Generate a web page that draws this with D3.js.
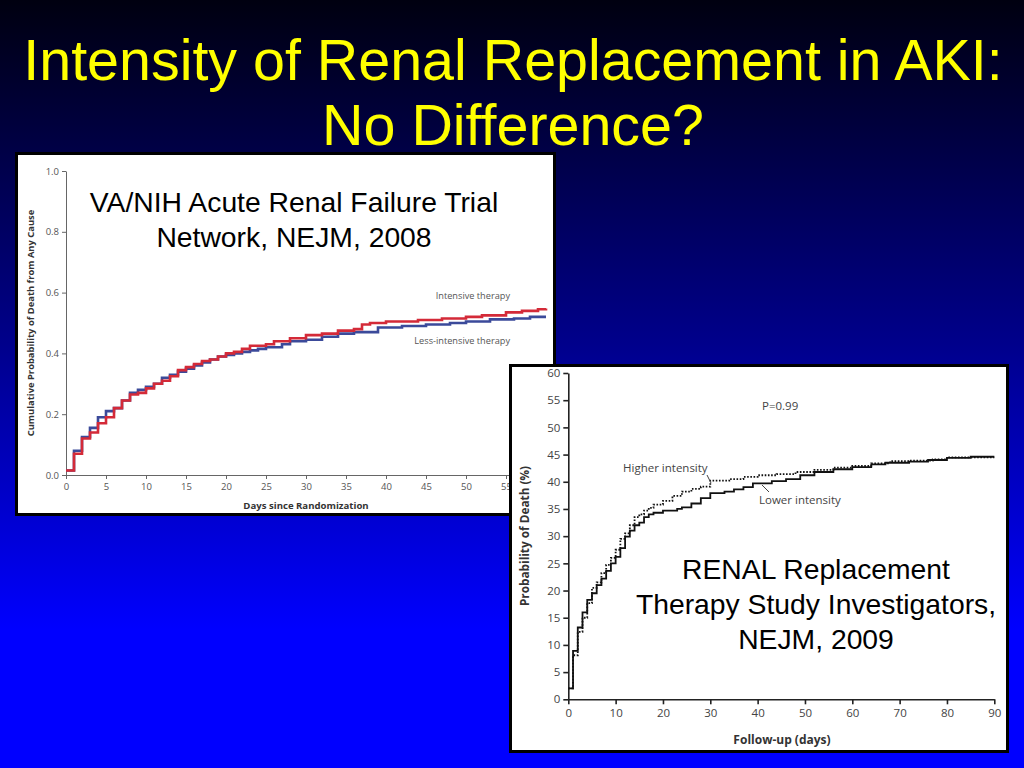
<!DOCTYPE html>
<html>
<head>
<meta charset="utf-8">
<script src="https://cdn.jsdelivr.net/npm/d3@7"></script>
<style>
  html, body { margin: 0; padding: 0; background: #000; }
  svg { display: block; }
</style>
</head>
<body>
<div id="slide"></div>
<script>
/* Slide: two Kaplan-Meier style step curves, VA/NIH (2008) and RENAL (2009) */

// VA/NIH ATN trial, cumulative probability of death
var vaIntDays = [0, 1, 2, 3, 4, 5, 6, 7, 8, 9, 10, 11, 12, 13, 14, 15, 16, 17, 18, 19, 20, 21, 22, 23, 25, 26, 28, 30, 32, 34, 36, 37, 38, 40, 44, 47, 50, 52, 55, 57, 59, 60];
var vaIntProb = [0.015, 0.07, 0.12, 0.14, 0.17, 0.19, 0.22, 0.245, 0.265, 0.27, 0.285, 0.30, 0.31, 0.325, 0.345, 0.355, 0.365, 0.375, 0.38, 0.39, 0.40, 0.405, 0.415, 0.425, 0.43, 0.44, 0.45, 0.46, 0.465, 0.475, 0.48, 0.495, 0.50, 0.505, 0.51, 0.515, 0.52, 0.525, 0.535, 0.54, 0.545, 0.548];
var vaLessDays = [0, 1, 2, 3, 4, 5, 6, 7, 8, 9, 10, 11, 12, 13, 14, 15, 16, 17, 18, 19, 20, 21, 22, 23, 24, 25, 27, 28, 30, 32, 34, 36, 39, 42, 45, 48, 50, 53, 56, 58, 60];
var vaLessProb = [0.015, 0.08, 0.125, 0.155, 0.19, 0.21, 0.22, 0.245, 0.27, 0.28, 0.29, 0.30, 0.32, 0.33, 0.34, 0.35, 0.36, 0.37, 0.38, 0.39, 0.395, 0.40, 0.405, 0.41, 0.415, 0.42, 0.43, 0.44, 0.445, 0.455, 0.465, 0.47, 0.485, 0.49, 0.495, 0.50, 0.505, 0.512, 0.515, 0.52, 0.52];
var vaYTicks = [0.0, 0.2, 0.4, 0.6, 0.8, 1.0];
var vaXTicks = [0, 5, 10, 15, 20, 25, 30, 35, 40, 45, 50, 55];

// RENAL study, probability of death (%)
var renLowDays = [0, 1, 2, 3, 4, 5, 6, 7, 8, 9, 10, 11, 12, 13, 14, 15, 16, 17, 18, 20, 23, 24, 26, 28, 30, 33, 35, 37, 39, 43, 46, 49, 52, 56, 60, 64, 67, 72, 76, 80, 85, 90];
var renLowPct = [2.0, 8.9, 13.2, 16.0, 18.3, 19.5, 21.0, 22.2, 23.6, 25.0, 26.2, 27.8, 29.9, 31.0, 32.0, 32.5, 33.5, 34.0, 34.3, 34.7, 35.0, 35.3, 36.0, 37.0, 37.9, 38.2, 38.6, 39.0, 39.7, 40.1, 40.5, 41.2, 41.8, 42.3, 42.7, 43.2, 43.5, 43.7, 44.0, 44.4, 44.6, 44.6];
var renHighDays = [0, 1, 2, 3, 4, 5, 6, 7, 8, 9, 10, 11, 12, 13, 14, 15, 16, 17, 18, 20, 22, 24, 26, 28, 30, 34, 37, 40, 44, 48, 52, 56, 60, 64, 68, 72, 77, 80, 90];
var renHighPct = [2.0, 8.1, 12.4, 15.0, 17.7, 20.5, 21.5, 23.2, 24.7, 26.0, 27.5, 29.5, 30.5, 32.0, 33.5, 34.0, 34.7, 35.2, 35.8, 36.5, 37.4, 38.2, 38.7, 39.1, 40.2, 40.5, 40.9, 41.2, 41.4, 41.8, 42.2, 42.6, 42.9, 43.4, 43.8, 43.9, 44.1, 44.5, 44.5];
var renYTicks = [0, 5, 10, 15, 20, 25, 30, 35, 40, 45, 50, 55, 60];
var renXTicks = [0, 10, 20, 30, 40, 50, 60, 70, 80, 90];

var titleLines = ['Intensity of Renal Replacement in AKI:', 'No Difference?'];
var vaCaption = ['VA/NIH Acute Renal Failure Trial', 'Network, NEJM, 2008'];
var renCaption = ['RENAL Replacement', 'Therapy Study Investigators,', 'NEJM, 2009'];

var W = 1024, H = 768;
var svg = d3.select('#slide').append('svg').attr('width', W).attr('height', H);

/* background gradient */
var grad = svg.append('defs').append('linearGradient')
  .attr('id', 'bg').attr('x1', 0).attr('y1', 0).attr('x2', 0).attr('y2', 1);
grad.append('stop').attr('offset', '0%').attr('stop-color', '#000010');
grad.append('stop').attr('offset', '45%').attr('stop-color', '#00008c');
grad.append('stop').attr('offset', '82%').attr('stop-color', '#0000ff');
grad.append('stop').attr('offset', '100%').attr('stop-color', '#0000ff');
svg.append('rect').attr('width', W).attr('height', H).attr('fill', 'url(#bg)');

/* title */
svg.append('g').selectAll('text').data(titleLines).join('text')
  .attr('x', 513).attr('y', function (d, i) { return 80 + i * 65; })
  .attr('text-anchor', 'middle')
  .style('font-family', '"Liberation Sans", Arial, sans-serif')
  .style('font-size', '57.4px').style('fill', '#ffff00')
  .text(function (d) { return d; });

var labelFont = '"Open Sans", "DejaVu Sans", sans-serif';
var stepLine = function (x, y) {
  return d3.line().curve(d3.curveStepAfter)
    .x(function (d) { return x(d[0]); }).y(function (d) { return y(d[1]); });
};

/* ---------- left panel: VA/NIH ---------- */
var left = svg.append('g');
left.append('rect').attr('x', 16.5).attr('y', 153.5).attr('width', 538).attr('height', 361)
  .attr('fill', '#fff').attr('stroke', '#000').attr('stroke-width', 3);

var xL = d3.scaleLinear().domain([0, 60]).range([66, 546]);
var yL = d3.scaleLinear().domain([0, 1]).range([475, 171]);

var axL = left.append('g').attr('transform', 'translate(0,' + yL(0) + ')')
  .call(d3.axisBottom(xL).tickValues(vaXTicks).tickSize(4).tickSizeOuter(0));
var ayL = left.append('g').attr('transform', 'translate(' + xL(0) + ',0)')
  .call(d3.axisLeft(yL).tickValues(vaYTicks).tickFormat(d3.format('.1f')).tickSize(4).tickSizeOuter(0));
[axL, ayL].forEach(function (a) {
  a.selectAll('path, line').attr('stroke', '#666');
  a.selectAll('text').style('font-family', labelFont).style('font-size', '9.5px').attr('fill', '#555');
});
axL.selectAll('text').attr('dy', '0.85em');

left.append('text').attr('x', 306).attr('y', 509).attr('text-anchor', 'middle')
  .style('font-family', labelFont).style('font-size', '9.6px').style('font-weight', 'bold')
  .attr('fill', '#333').text('Days since Randomization');
left.append('text').attr('transform', 'translate(34,323) rotate(-90)').attr('text-anchor', 'middle')
  .style('font-family', labelFont).style('font-size', '9.4px').style('font-weight', 'bold')
  .attr('fill', '#333').text('Cumulative Probability of Death from Any Cause');

var lineL = stepLine(xL, yL);
left.append('path').datum(d3.zip(vaLessDays, vaLessProb)).attr('d', lineL)
  .attr('fill', 'none').attr('stroke', '#3b4a9a').attr('stroke-width', 2.6);
left.append('path').datum(d3.zip(vaIntDays, vaIntProb)).attr('d', lineL)
  .attr('fill', 'none').attr('stroke', '#d42a38').attr('stroke-width', 2.6);

left.append('text').attr('x', 510).attr('y', 299).attr('text-anchor', 'end')
  .style('font-family', labelFont).style('font-size', '9.2px').attr('fill', '#555')
  .text('Intensive therapy');
left.append('text').attr('x', 510).attr('y', 344).attr('text-anchor', 'end')
  .style('font-family', labelFont).style('font-size', '9.2px').attr('fill', '#555')
  .text('Less-intensive therapy');

left.append('g').selectAll('text').data(vaCaption).join('text')
  .attr('x', 294).attr('y', function (d, i) { return 212 + i * 35; })
  .attr('text-anchor', 'middle')
  .style('font-family', '"Liberation Sans", Arial, sans-serif').style('font-size', '28.3px')
  .attr('fill', '#000').text(function (d) { return d; });

/* ---------- right panel: RENAL ---------- */
var right = svg.append('g');
right.append('rect').attr('x', 510.5).attr('y', 365.5).attr('width', 497).attr('height', 386)
  .attr('fill', '#fff').attr('stroke', '#000').attr('stroke-width', 3);

var xR = d3.scaleLinear().domain([0, 90]).range([568.3, 994.3]);
var yR = d3.scaleLinear().domain([0, 60]).range([699.3, 373]);

var axR = right.append('g').attr('transform', 'translate(0,' + yR(0) + ')')
  .call(d3.axisBottom(xR).tickValues(renXTicks).tickSize(5).tickSizeOuter(0));
var ayR = right.append('g').attr('transform', 'translate(' + xR(0) + ',0)')
  .call(d3.axisLeft(yR).tickValues(renYTicks).tickSize(5).tickSizeOuter(0));
[axR, ayR].forEach(function (a) {
  a.selectAll('path, line').attr('stroke', '#222').attr('stroke-width', 1.6);
  a.selectAll('text').style('font-family', labelFont).style('font-size', '11.5px').attr('fill', '#444');
});
axR.selectAll('text').attr('dy', '0.85em');

right.append('text').attr('x', 782).attr('y', 744).attr('text-anchor', 'middle')
  .style('font-family', labelFont).style('font-size', '12px').style('font-weight', 'bold')
  .attr('fill', '#333').text('Follow-up (days)');
right.append('text').attr('transform', 'translate(529,536) rotate(-90)').attr('text-anchor', 'middle')
  .style('font-family', labelFont).style('font-size', '11.8px').style('font-weight', 'bold')
  .attr('fill', '#333').text('Probability of Death (%)');

var lineR = stepLine(xR, yR);
right.append('path').datum(d3.zip(renHighDays, renHighPct)).attr('d', lineR)
  .attr('fill', 'none').attr('stroke', '#111').attr('stroke-width', 1.8).attr('stroke-dasharray', '1.6,1.6');
right.append('path').datum(d3.zip(renLowDays, renLowPct)).attr('d', lineR)
  .attr('fill', 'none').attr('stroke', '#111').attr('stroke-width', 1.8);

right.append('text').attr('x', 762).attr('y', 410)
  .style('font-family', labelFont).style('font-size', '11.5px').attr('fill', '#444').text('P=0.99');
right.append('text').attr('x', 623).attr('y', 472)
  .style('font-family', labelFont).style('font-size', '11.5px').attr('fill', '#444').text('Higher intensity');
right.append('line').attr('x1', 707).attr('y1', 475).attr('x2', 711).attr('y2', 483)
  .attr('stroke', '#444').attr('stroke-width', 1);
right.append('text').attr('x', 759).attr('y', 504)
  .style('font-family', labelFont).style('font-size', '11.5px').attr('fill', '#444').text('Lower intensity');
right.append('line').attr('x1', 762).attr('y1', 485).attr('x2', 769).attr('y2', 492)
  .attr('stroke', '#444').attr('stroke-width', 1);

right.append('g').selectAll('text').data(renCaption).join('text')
  .attr('x', 816).attr('y', function (d, i) { return 579 + i * 35; })
  .attr('text-anchor', 'middle')
  .style('font-family', '"Liberation Sans", Arial, sans-serif').style('font-size', '28.3px')
  .attr('fill', '#000').text(function (d) { return d; });
</script>
</body>
</html>
